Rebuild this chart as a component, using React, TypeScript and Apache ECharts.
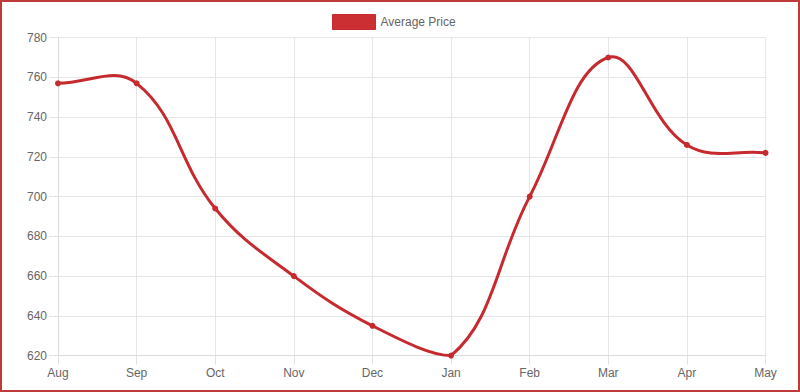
import React, { useEffect, useRef } from "react";
import * as echarts from "echarts";

const months = ["Aug", "Sep", "Oct", "Nov", "Dec", "Jan", "Feb", "Mar", "Apr", "May"];
const averagePrice = [757, 757, 694, 660, 635, 620, 700, 770, 726, 722];
const yMin = 620;
const yMax = 780;
const yStep = 20;
const TENSION = 0.4;
const LINE_COLOR = "#c62a2e";

type P = number[];

function ctrl(prev: P, cur: P, next: P) {
  const d01 = Math.hypot(cur[0] - prev[0], cur[1] - prev[1]);
  const d12 = Math.hypot(next[0] - cur[0], next[1] - cur[1]);
  const sum = d01 + d12;
  const s01 = sum ? d01 / sum : 0;
  const s12 = sum ? d12 / sum : 0;
  const fa = TENSION * s01;
  const fb = TENSION * s12;
  return {
    prev: [cur[0] - fa * (next[0] - prev[0]), cur[1] - fa * (next[1] - prev[1])],
    next: [cur[0] + fb * (next[0] - prev[0]), cur[1] + fb * (next[1] - prev[1])],
  };
}

const clamp = (v: number, a: number, b: number) => Math.min(Math.max(v, Math.min(a, b)), Math.max(a, b));

export default function App() {
  const ref = useRef<HTMLDivElement>(null);
  useEffect(() => {
    if (!ref.current) return;
    const chart = echarts.init(ref.current, undefined, { renderer: "svg" });
    const font = "'Liberation Sans', Arial, Helvetica, sans-serif";
    const n = averagePrice.length;
    chart.setOption({
      animation: false,
      backgroundColor: "#ffffff",
      textStyle: { fontFamily: font },
      legend: {
        top: 9,
        left: 327,
        itemWidth: 43,
        itemHeight: 15,
        itemGap: 10,
        icon: "rect",
        textStyle: { color: "#666", fontSize: 12, fontFamily: font },
        data: [{ name: "Average Price", itemStyle: { color: "#cc2f33", borderColor: LINE_COLOR, borderWidth: 1 } }],
      },
      grid: { left: 58, right: 34.5, top: 37.6, bottom: 36.4, containLabel: false },
      xAxis: {
        type: "category",
        data: months,
        boundaryGap: false,
        axisLine: { show: true, lineStyle: { color: "#dcdcdc", width: 1 } },
        axisTick: { show: true, length: 9, alignWithLabel: true, lineStyle: { color: "#e2e2e2" } },
        axisLabel: { color: "#666", fontSize: 12, margin: 11, fontFamily: font },
        splitLine: { show: true, lineStyle: { color: "#e6e6e6", width: 1 } },
      },
      yAxis: {
        type: "value",
        min: yMin,
        max: yMax,
        interval: yStep,
        axisLine: { show: true, lineStyle: { color: "#dcdcdc", width: 1 } },
        axisTick: { show: true, length: 9, lineStyle: { color: "#e2e2e2" } },
        axisLabel: { color: "#666", fontSize: 12, margin: 11, fontFamily: font },
        splitLine: { show: true, lineStyle: { color: "#e6e6e6", width: 1 } },
      },
      series: [
        {
          name: "Average Price",
          type: "custom",
          data: averagePrice.map((v, i) => [i, v]),
          encode: { x: 0, y: 1 },
          z: 2,
          renderItem: (params: any, api: any) => {
            const i = params.dataIndex;
            if (i >= n - 1) return null;
            const pt = (k: number) => api.coord([k, averagePrice[k]]);
            const lo = api.coord([0, yMin]);
            const hi = api.coord([n - 1, yMax]);
            const cap = (p: P) => [clamp(p[0], lo[0], hi[0]), clamp(p[1], lo[1], hi[1])];
            const p0 = pt(Math.max(i - 1, 0));
            const p1 = pt(i);
            const p2 = pt(i + 1);
            const p3 = pt(Math.min(i + 2, n - 1));
            const c1 = ctrl(i === 0 ? p1 : p0, p1, p2);
            const c2 = ctrl(p1, p2, i + 1 === n - 1 ? p2 : p3);
            const a = cap(c1.next);
            const b = cap(c2.prev);
            return {
              type: "bezierCurve",
              shape: {
                x1: p1[0],
                y1: p1[1],
                cpx1: a[0],
                cpy1: a[1],
                cpx2: b[0],
                cpy2: b[1],
                x2: p2[0],
                y2: p2[1],
              },
              style: { stroke: LINE_COLOR, lineWidth: 3, fill: null, lineCap: "round" },
            };
          },
        },
        {
          name: "Average Price",
          type: "line",
          data: averagePrice,
          symbol: "circle",
          symbolSize: 6,
          z: 3,
          lineStyle: { width: 0, opacity: 0 },
          itemStyle: { color: LINE_COLOR },
        },
      ],
    });
    return () => chart.dispose();
  }, []);
  return (
    <div style={{ position: "fixed", left: 0, top: 0, width: 800, height: 392 }}>
      <div ref={ref} style={{ width: 800, height: 392 }} />
      <div
        style={{
          position: "absolute",
          left: 0,
          top: 0,
          width: 800,
          height: 392,
          boxSizing: "border-box",
          border: "2px solid #c0393b",
          pointerEvents: "none",
        }}
      />
    </div>
  );
}
